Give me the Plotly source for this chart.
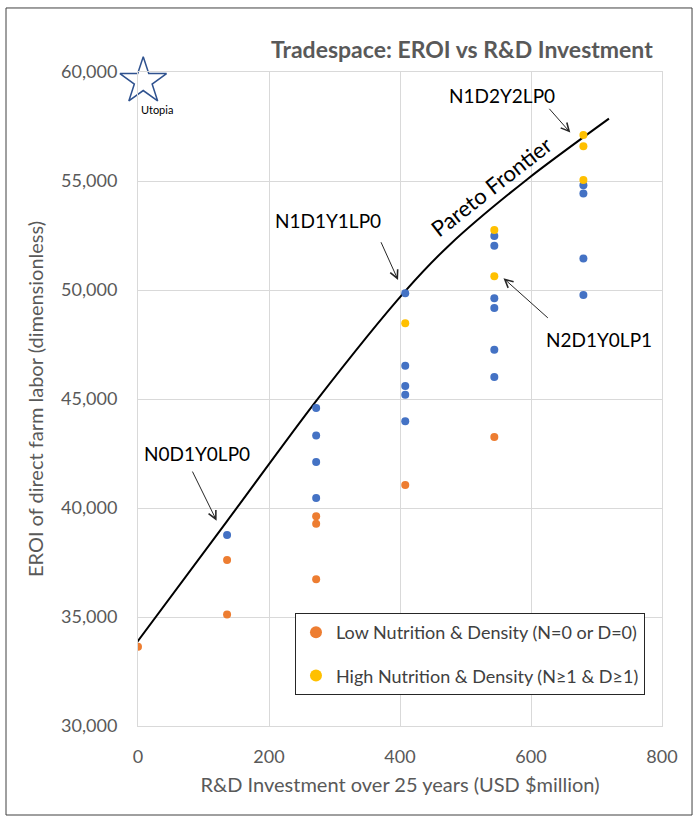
import plotly.graph_objects as go

# ---------------- data ----------------
low_x = [0, 136, 136, 272, 272, 272, 408, 544]
low_y = [33640, 37620, 35110, 39620, 39280, 36730, 41060, 43260]

high_x = [408, 544, 544, 680, 680, 680]
high_y = [48470, 52750, 50630, 57110, 56590, 55050]

other_x = [136, 272, 272, 272, 272, 408, 408, 408, 408, 408,
           544, 544, 544, 544, 544, 544, 680, 680, 680, 680]
other_y = [38760, 44590, 43330, 42110, 40460, 49850, 46530, 45600, 45200, 43980,
           52480, 52030, 49620, 49170, 47260, 46010, 54800, 54430, 51440, 49770]

frontier_x = [-10, 136, 273, 408, 476, 593, 719]
frontier_y = [33500, 39400, 44950, 49950, 52080, 55050, 57860]

utopia_x = [8]
utopia_y = [59580]

x_ticks = [0, 200, 400, 600, 800]
y_ticks = [30000, 35000, 40000, 45000, 50000, 55000, 60000]

design_labels = ["N0D1Y0LP0", "N1D1Y1LP0", "N1D2Y2LP0", "N2D1Y0LP1"]

FONT = "Lato, 'Open Sans', sans-serif"
GRID = "#D9D9D9"
TXT = "#595959"

fig = go.Figure()

fig.add_trace(go.Scatter(
    x=frontier_x, y=frontier_y, mode="lines",
    line=dict(color="black", width=2, shape="spline", smoothing=0.8),
    showlegend=False, hoverinfo="skip"))

fig.add_trace(go.Scatter(
    x=other_x, y=other_y, mode="markers", name="Other designs",
    marker=dict(color="#4472C4", size=8), showlegend=False))

fig.add_trace(go.Scatter(
    x=low_x, y=low_y, mode="markers", name="Low Nutrition & Density (N=0 or D=0)",
    marker=dict(color="#ED7D31", size=8), legendgroup="low"))

fig.add_trace(go.Scatter(
    x=high_x, y=high_y, mode="markers", name="High Nutrition & Density (N≥1 & D≥1)",
    marker=dict(color="#FFC000", size=8), legendgroup="high"))

fig.add_trace(go.Scatter(
    x=utopia_x, y=utopia_y, mode="markers", showlegend=False, cliponaxis=False,
    marker=dict(symbol="star-open", size=35, color="#2F528F", line=dict(width=1.5)),
    hoverinfo="skip"))

annotations = []
# design labels with arrows (text pos, arrow tail, arrow head)
label_pos = [(90, 42480), (290, 53170), (556, 58900), (704, 47710)]
arrow_tail = [(82, 41740), (370, 52260), (626, 58380), (628, 48660)]
arrow_head = [(120, 39420), (397, 50460), (660, 57220), (558, 50540)]
for lab, (tx, ty), (ax, ay), (hx, hy) in zip(design_labels, label_pos, arrow_tail, arrow_head):
    annotations.append(dict(x=tx, y=ty, xref="x", yref="y", text=lab, showarrow=False,
                            font=dict(family=FONT, size=19, color="black")))
    annotations.append(dict(x=hx, y=hy, ax=ax, ay=ay, xref="x", yref="y", axref="x", ayref="y",
                            text="", showarrow=True, arrowhead=5, arrowsize=1.6,
                            arrowwidth=1, arrowcolor="#262626", standoff=0, startstandoff=0))

annotations.append(dict(x=539, y=54770, xref="x", yref="y", text="Pareto Frontier",
                        showarrow=False, textangle=-38,
                        font=dict(family=FONT, size=22, color="black")))
annotations.append(dict(x=29, y=58300, xref="x", yref="y", text="Utopia", showarrow=False,
                        font=dict(family=FONT, size=11, color="black")))
annotations.append(dict(x=0.618, y=1.0596, xref="paper", yref="paper",
                        text="<b>Tradespace: EROI vs R&D Investment</b>", showarrow=False,
                        font=dict(family=FONT, size=23, color=TXT)))

shapes = [dict(type="rect", xref="paper", yref="paper",
               x0=-0.2519, x1=1.0573, y0=-0.1361, y1=1.0979,
               line=dict(color="#404040", width=1), fillcolor="rgba(0,0,0,0)")]

fig.update_layout(
    width=700, height=819,
    margin=dict(l=138, r=38, t=72, b=93),
    paper_bgcolor="white", plot_bgcolor="white",
    font=dict(family=FONT, color=TXT),
    annotations=annotations, shapes=shapes,
    legend=dict(x=0.2996, y=0.1728, xanchor="left", yanchor="top",
                bgcolor="white", bordercolor="#262626", borderwidth=1,
                font=dict(family=FONT, size=18, color="#404040"),
                itemsizing="constant", traceorder="grouped", tracegroupgap=17),
    xaxis=dict(range=[0, 800], tickvals=x_ticks, showgrid=True, gridcolor=GRID,
               zeroline=False, showline=True, linecolor=GRID, mirror=True,
               ticks="", ticklabelstandoff=14,
               tickfont=dict(family=FONT, size=18, color=TXT),
               title=dict(text="R&D Investment over 25 years (USD $million)",
                          font=dict(family=FONT, size=20, color=TXT), standoff=12)),
    yaxis=dict(range=[30000, 60000], tickvals=y_ticks, tickformat=",d",
               showgrid=True, gridcolor=GRID,
               zeroline=False, showline=True, linecolor=GRID, mirror=True,
               ticks="", ticklabelstandoff=16,
               tickfont=dict(family=FONT, size=18, color=TXT),
               title=dict(text="EROI of direct farm labor (dimensionless)",
                          font=dict(family=FONT, size=20, color=TXT), standoff=12)),
)

fig.write_html("out.html", config={"displayModeBar": False},
               post_script="document.body.style.margin='0px';")
